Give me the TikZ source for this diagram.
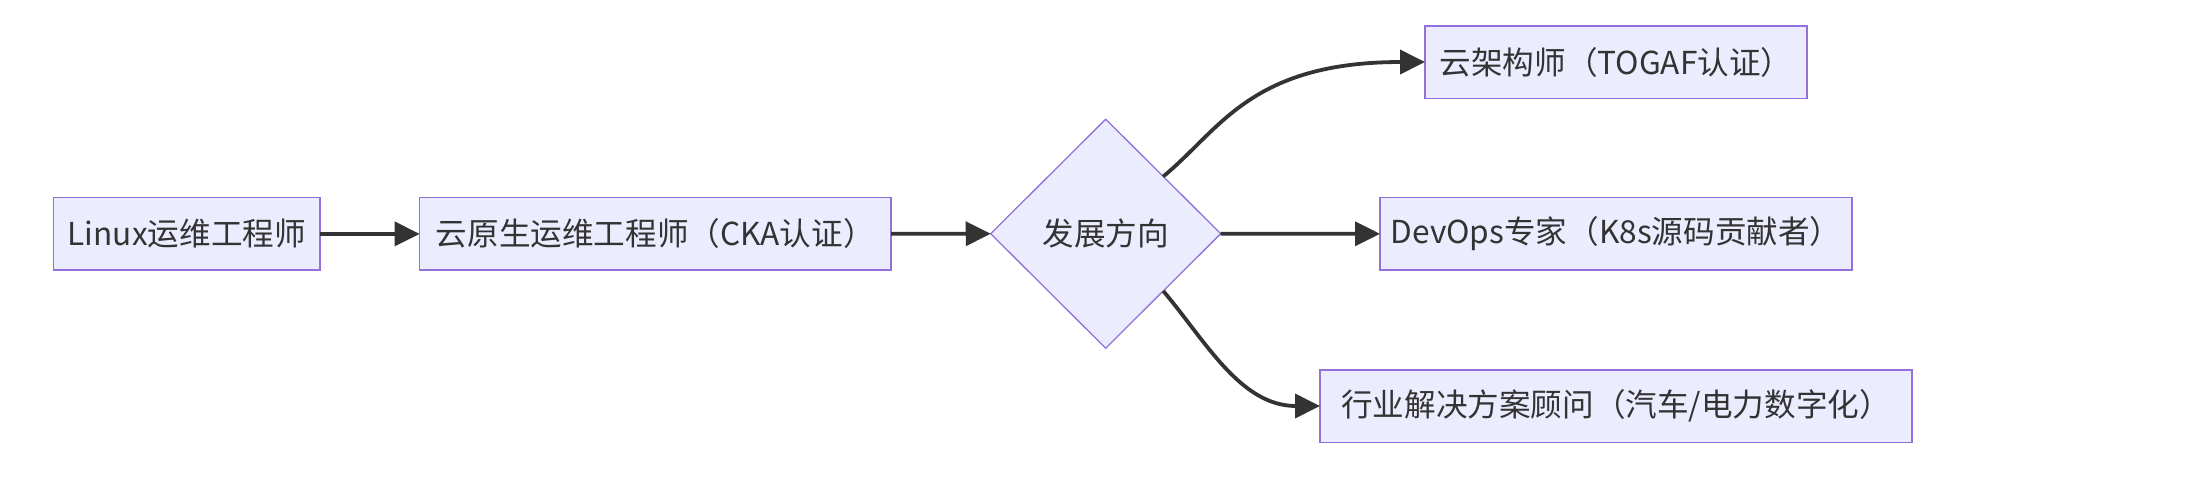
\documentclass[tikz,border=0pt]{standalone}
\usepackage{fontspec}
\setmainfont{Noto Sans CJK SC}
\usetikzlibrary{arrows.meta,shapes.geometric}
\definecolor{nodefill}{HTML}{ECECFF}
\definecolor{nodeline}{HTML}{9370DB}
\definecolor{edgeline}{HTML}{333333}
\definecolor{txt}{HTML}{333333}
\begin{document}
\begin{tikzpicture}[x=0.5pt,y=-0.5pt,
  box/.style={rectangle, draw=nodeline, fill=nodefill, line width=0.8pt, inner sep=0pt, outer sep=0pt,
    minimum height=36.3pt, text=txt, font=\fontsize{15.8pt}{19pt}\selectfont},
  dia/.style={diamond, draw=nodeline, fill=nodefill, line width=0.65pt, inner sep=0pt, outer sep=0pt,
    minimum width=115pt, minimum height=114.5pt, text=txt, font=\fontsize{15.8pt}{19pt}\selectfont},
  edge/.style={draw=edgeline, line width=1.9pt, -{Triangle[length=12.5pt,width=12pt]}}]
\useasboundingbox (0,0) rectangle (2189,489);
\node[box, minimum width=133.2pt] (a) at (186.8,233.9) {Linux运维工程师};
\node[box, minimum width=235.7pt] (b) at (655.3,233.9) {云原生运维工程师（CKA认证）};
\node[dia] (c) at (1105.7,233.7) {发展方向};
\node[box, minimum width=191pt] (d) at (1616,62) {云架构师（TOGAF认证）};
\node[box, minimum width=236pt] (e) at (1616,233.9) {DevOps专家（K8s源码贡献者）};
\node[box, minimum width=296pt] (f) at (1616,406) {行业解决方案顾问（汽车/电力数字化）};
\draw[edge] (a) -- (b);
\draw[edge] (b) -- (c);
\draw[edge] (c) -- (e);
\draw[edge] (c.north east) .. controls (1220,130) and (1250,62) .. (d.west);
\draw[edge] (c.south east) .. controls (1205,340) and (1240,406) .. (f.west);
\end{tikzpicture}
\end{document}
